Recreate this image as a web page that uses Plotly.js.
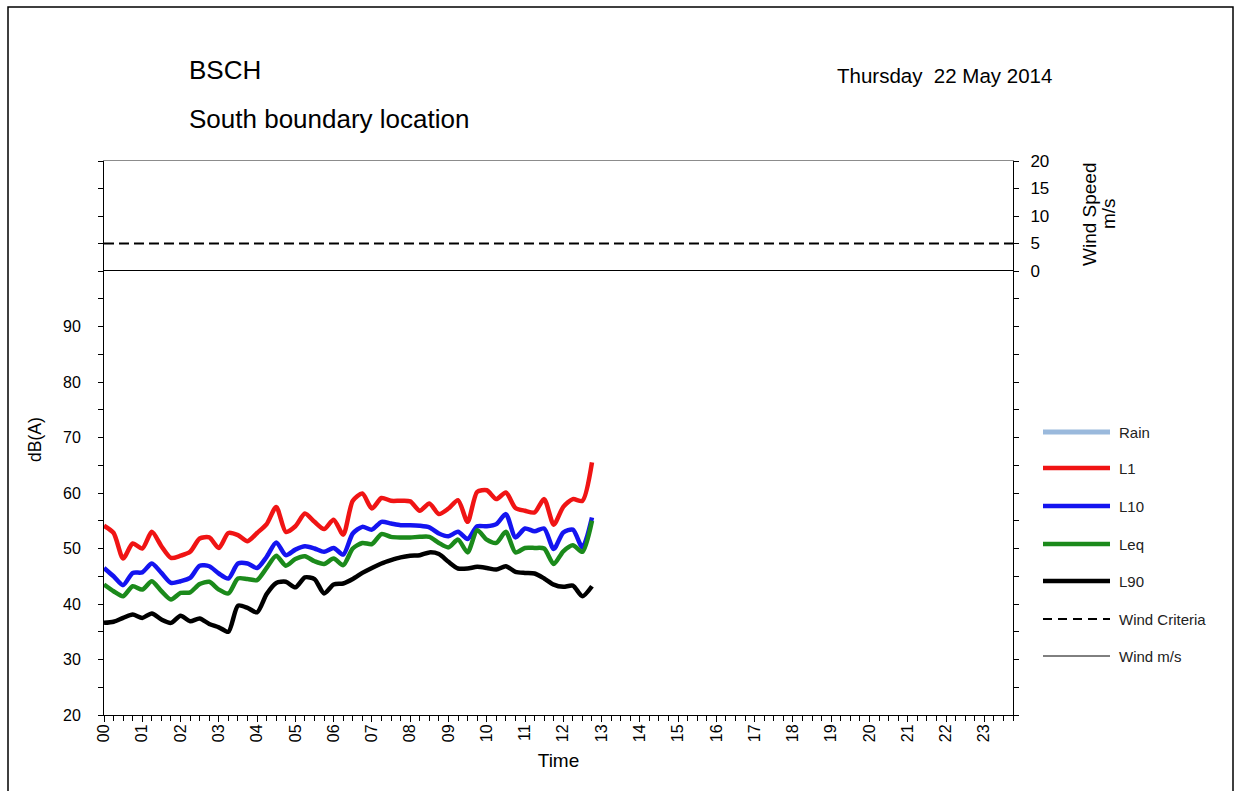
<!DOCTYPE html>
<html>
<head>
<meta charset="utf-8">
<script src="https://cdn.plot.ly/plotly-3.0.1.min.js"></script>
<style>
  html, body { margin: 0; padding: 0; background: #fff; }
  #chart { width: 1241px; height: 791px; }
</style>
</head>
<body>
<div id="chart"></div>
<script>
// Noise monitoring, 15-minute intervals from 00:00
const timeHours = [
  0, 0.25, 0.5, 0.75, 1, 1.25, 1.5, 1.75, 2, 2.25, 2.5, 2.75,
  3, 3.25, 3.5, 3.75, 4, 4.25, 4.5, 4.75, 5, 5.25, 5.5, 5.75,
  6, 6.25, 6.5, 6.75, 7, 7.25, 7.5, 7.75, 8, 8.25, 8.5, 8.75,
  9, 9.25, 9.5, 9.75, 10, 10.25, 10.5, 10.75, 11, 11.25, 11.5, 11.75,
  12, 12.25, 12.5, 12.75
];

const l1 = [
  54.1, 52.8, 48.2, 50.9, 50.0, 53.0, 50.4, 48.3, 48.7, 49.4, 51.8, 52.0,
  50.1, 52.8, 52.4, 51.3, 52.8, 54.4, 57.5, 53.0, 54.0, 56.3, 54.8, 53.5,
  55.2, 52.5, 58.6, 59.9, 57.2, 59.1, 58.6, 58.6, 58.5, 56.8, 58.1, 56.2,
  57.2, 58.7, 54.8, 60.2, 60.5, 58.9, 60.1, 57.3, 56.8, 56.5, 58.9, 54.3,
  57.5, 58.9, 58.6, 65.5
];

const l10 = [
  46.5, 45.0, 43.4, 45.6, 45.7, 47.3, 45.6, 43.8, 44.1, 44.7, 46.9, 46.8,
  45.5, 44.6, 47.3, 47.3, 46.5, 48.5, 51.1, 48.8, 49.8, 50.4, 50.0, 49.4,
  50.1, 48.9, 52.7, 53.9, 53.4, 54.8, 54.5, 54.2, 54.2, 54.1, 53.8, 52.7,
  52.2, 53.0, 51.7, 54.0, 54.0, 54.4, 56.2, 52.0, 53.6, 53.1, 53.6, 49.9,
  52.9, 53.4, 50.2, 55.6
];

const leq = [
  43.5, 42.3, 41.4, 43.2, 42.6, 44.1, 42.3, 40.8, 42.0, 42.1, 43.6, 44.0,
  42.6, 41.9, 44.6, 44.5, 44.3, 46.5, 48.7, 46.9, 48.1, 48.6, 47.7, 47.2,
  48.2, 47.0, 50.0, 51.0, 50.8, 52.6, 52.1, 52.0, 52.0, 52.1, 52.1, 51.0,
  50.2, 51.6, 49.3, 53.3, 51.6, 51.0, 53.0, 49.3, 50.1, 50.1, 50.0, 47.2,
  49.5, 50.6, 49.4, 55.0
];

const l90 = [
  36.6, 36.8, 37.5, 38.1, 37.5, 38.3, 37.2, 36.6, 37.9, 36.9, 37.4, 36.4,
  35.8, 35.0, 39.7, 39.3, 38.5, 41.8, 43.8, 44.0, 43.0, 44.8, 44.5, 41.9,
  43.5, 43.7, 44.5, 45.6, 46.5, 47.3, 47.9, 48.4, 48.7, 48.8, 49.3, 49.0,
  47.6, 46.4, 46.4, 46.7, 46.5, 46.2, 46.8, 45.8, 45.6, 45.5, 44.6, 43.5,
  43.1, 43.3, 41.4, 43.2
];

// No rain or wind readings logged on this day
const rainTime = [];
const rainValues = [];
const windTime = [];
const windValues = [];

// Wind criteria applies over the whole day
const criteriaTime = [0, 23.75];
const windCriteria = [5, 5];

const hourTicks = [0, 1, 2, 3, 4, 5, 6, 7, 8, 9, 10, 11, 12, 13, 14, 15, 16, 17, 18, 19, 20, 21, 22, 23];
const hourLabels = ['00','01','02','03','04','05','06','07','08','09','10','11',
                    '12','13','14','15','16','17','18','19','20','21','22','23'];
const dbTicks = [20, 30, 40, 50, 60, 70, 80, 90];
const windTicks = [0, 5, 10, 15, 20];

const FONT = 'Liberation Sans, Arial, sans-serif';

// Plot frame in pixels
const W = 1241, H = 791;
const M = { l: 104, r: W - 1013, t: 161, b: H - 715 };
const plotW = W - M.l - M.r, plotH = H - M.t - M.b;
const px = x => (x - M.l) / plotW;
const py = y => (H - M.b - y) / plotH;
const split = py(271);

function series(name, y, color) {
  return {
    type: 'scatter', mode: 'lines', name: name,
    x: timeHours, y: y, xaxis: 'x', yaxis: 'y',
    line: { color: color, width: 4.5, shape: 'spline', smoothing: 0.7 },
    hoverinfo: 'x+y'
  };
}

const traces = [
  { type: 'scatter', mode: 'lines', name: 'Rain',
    x: rainTime, y: rainValues, xaxis: 'x', yaxis: 'y',
    line: { color: '#9ab9dc', width: 6 } },
  series('L1', l1, '#f01414'),
  series('L10', l10, '#1414f0'),
  series('Leq', leq, '#1b8a1b'),
  series('L90', l90, '#000000'),
  { type: 'scatter', mode: 'lines', name: 'Wind Criteria',
    x: criteriaTime, y: windCriteria, xaxis: 'x2', yaxis: 'y2',
    line: { color: '#000000', width: 2, dash: '10px,5px' } },
  { type: 'scatter', mode: 'lines', name: 'Wind m/s',
    x: windTime, y: windValues, xaxis: 'x2', yaxis: 'y2',
    line: { color: '#000000', width: 1 } }
];

// Key drawn beside the plot, one row per trace, styled from the trace itself
const keyRows = [432, 468, 506, 544, 581, 619, 656];
const keyShapes = [], keyLabels = [];
traces.forEach((t, i) => {
  const y = py(keyRows[i]);
  keyShapes.push({
    type: 'line', xref: 'paper', yref: 'paper',
    x0: px(1043), x1: px(1110), y0: y, y1: y,
    line: { color: t.line.color, width: Math.min(t.line.width, 5),
            dash: t.line.dash ? '9px,6px' : 'solid' }
  });
  keyLabels.push({
    text: t.name, xref: 'paper', yref: 'paper', x: px(1117), y: y,
    xanchor: 'left', yanchor: 'middle', showarrow: false,
    font: { family: FONT, size: 15, color: '#222' }
  });
});

const layout = {
  width: W, height: H,
  margin: M,
  paper_bgcolor: '#ffffff', plot_bgcolor: '#ffffff',
  font: { family: FONT, size: 16, color: '#000' },
  showlegend: false,
  xaxis: {
    domain: [0, 1], anchor: 'y', range: [0, 23.75],
    tickmode: 'array', tickvals: hourTicks, ticktext: hourLabels, tickangle: -90,
    ticks: 'outside', ticklen: 6, tickcolor: '#000', tickwidth: 1,
    minor: { tickmode: 'linear', tick0: 0, dtick: 0.25, ticks: 'outside', ticklen: 5, tickcolor: '#000' },
    showline: true, linecolor: '#000', linewidth: 1, mirror: true,
    showgrid: false, zeroline: false, ticklabelstandoff: -4,
    tickfont: { family: FONT, size: 16 },
    title: { text: 'Time', font: { family: FONT, size: 19 }, standoff: 12 }
  },
  yaxis: {
    domain: [0, split], anchor: 'x', range: [20, 100],
    tickmode: 'array', tickvals: dbTicks,
    ticks: 'outside', ticklen: 5, tickcolor: '#000',
    minor: { tickmode: 'linear', tick0: 20, dtick: 5, ticks: 'outside', ticklen: 5, tickcolor: '#000' },
    showline: true, linecolor: '#000', linewidth: 1, mirror: 'ticks',
    showgrid: false, zeroline: false, ticklabelstandoff: 14,
    tickfont: { family: FONT, size: 16 }
  },
  xaxis2: {
    domain: [0, 1], anchor: 'y2', range: [0, 23.75], side: 'top',
    showticklabels: false, ticks: '',
    showline: true, linecolor: '#8c8c8c', linewidth: 1,
    showgrid: false, zeroline: false
  },
  yaxis2: {
    domain: [split, 1], anchor: 'x2', range: [0, 20], side: 'right',
    tickmode: 'array', tickvals: windTicks,
    ticks: 'outside', ticklen: 5, tickcolor: '#000',
    showline: true, linecolor: '#000', linewidth: 1, mirror: 'ticks',
    showgrid: false, zeroline: false, ticklabelstandoff: 8,
    tickfont: { family: FONT, size: 17 }
  },
  annotations: [
    { text: 'BSCH', xref: 'paper', yref: 'paper', x: px(187), y: py(70),
      xanchor: 'left', yanchor: 'middle', showarrow: false,
      font: { family: FONT, size: 26, color: '#000' } },
    { text: 'South boundary location', xref: 'paper', yref: 'paper', x: px(187), y: py(119),
      xanchor: 'left', yanchor: 'middle', showarrow: false,
      font: { family: FONT, size: 26, color: '#000' } },
    { text: 'Thursday  22 May 2014', xref: 'paper', yref: 'paper', x: px(1054), y: py(75),
      xanchor: 'right', yanchor: 'middle', showarrow: false,
      font: { family: FONT, size: 20.5, color: '#000' } },
    { text: 'dB(A)', xref: 'paper', yref: 'paper', x: px(35), y: py(440),
      xanchor: 'center', yanchor: 'middle', textangle: -90, showarrow: false,
      font: { family: FONT, size: 17.5, color: '#000' } },
    { text: 'Wind Speed', xref: 'paper', yref: 'paper', x: px(1089), y: py(214),
      xanchor: 'center', yanchor: 'middle', textangle: -90, showarrow: false,
      font: { family: FONT, size: 19, color: '#000' } },
    { text: 'm/s', xref: 'paper', yref: 'paper', x: px(1108), y: py(214),
      xanchor: 'center', yanchor: 'middle', textangle: -90, showarrow: false,
      font: { family: FONT, size: 19, color: '#000' } }
  ].concat(keyLabels),
  shapes: [
    { type: 'rect', xref: 'paper', yref: 'paper',
      x0: px(8), x1: px(1233), y0: py(820), y1: py(7),
      line: { color: '#000', width: 1.5 }, fillcolor: 'rgba(0,0,0,0)', layer: 'below' }
  ].concat(keyShapes)
};

Plotly.newPlot('chart', traces, layout, { displayModeBar: false, staticPlot: true });
</script>
</body>
</html>
